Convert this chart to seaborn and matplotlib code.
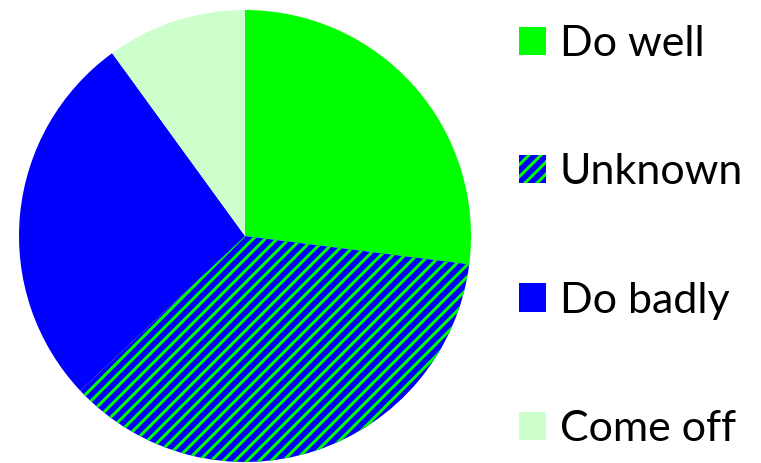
import matplotlib
matplotlib.use("Agg")
import matplotlib.pyplot as plt
import seaborn as sns

labels = ["Do well", "Unknown", "Do badly", "Come off"]
shares = [27, 36, 27, 10]
colors = ["#00FF00", "#0000FF", "#0000FF", "#CCFFCC"]
hatches = [None, "//", None, None]

sns.set_theme(style="white")
plt.rcParams["font.family"] = ["Lato", "DejaVu Sans"]
plt.rcParams["text.color"] = "black"
plt.rcParams["hatch.linewidth"] = 3.0

fig = plt.figure(figsize=(761 / 72, 463 / 72), dpi=72)
ax = fig.add_axes([19 / 761, 1 / 463, 452 / 761, 452 / 463])

wedges, _ = ax.pie(
    shares,
    colors=colors,
    startangle=90,
    counterclock=False,
    radius=1,
    wedgeprops=dict(linewidth=0),
)
for w, h in zip(wedges, hatches):
    if h:
        w.set_hatch(h)
        w.set_edgecolor("#00FF00")
        w.set_linewidth(0)
        if hasattr(w, "set_hatch_linewidth"):
            w.set_hatch_linewidth(3.0)
ax.set_xlim(-1, 1)
ax.set_ylim(-1, 1)
ax.set_aspect("equal")

leg = fig.legend(
    wedges,
    labels,
    loc="center left",
    bbox_to_anchor=(519 / 761, (463 - 236.5) / 463),
    frameon=False,
    fontsize=43,
    handlelength=0.63,
    handleheight=0.63,
    handletextpad=0.32,
    labelspacing=2.1,
    borderaxespad=0,
    borderpad=0,
)
for t in leg.get_texts():
    t.set_color("black")

fig.savefig("out.png", dpi=72)
